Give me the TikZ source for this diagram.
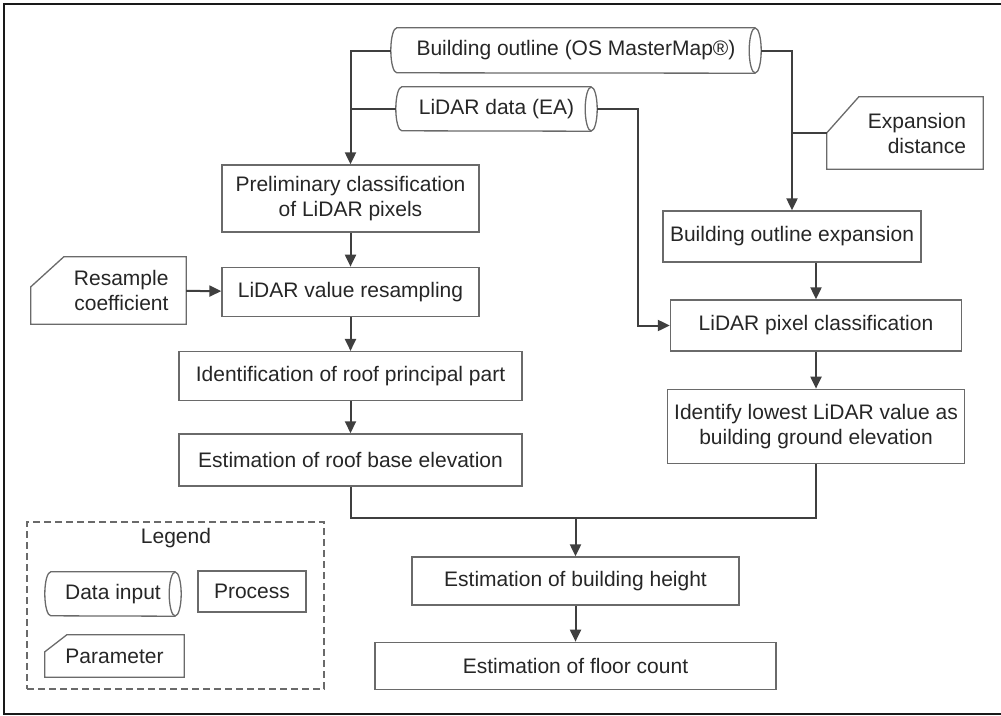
\documentclass[tikz,border=0pt]{standalone}
\usepackage{fontspec}
\setmainfont{Liberation Sans}
\usetikzlibrary{positioning,arrows.meta}
\definecolor{boxgray}{HTML}{6A6A6A}
\definecolor{linegray}{HTML}{3F3F3F}
\tikzset{
  process/.style={draw=boxgray, line width=1.3pt, rectangle, align=center, inner sep=4pt},
  datain/.style={rectangle, align=center, inner sep=4pt},
  param/.style={rectangle, inner sep=0pt},
  outline/.style={draw=boxgray, line width=1.3pt},
  conn/.style={draw=linegray, line width=2pt},
  arr/.style={conn, -{Triangle[length=12pt,width=11pt]}},
}

\begin{document}
\begin{tikzpicture}[x=1pt, y=-1pt, font=\fontsize{21}{25}\selectfont, text=black!85]

\useasboundingbox (0,0) rectangle (1001,715);
\draw[line width=2pt, black!90] (1001,4) -- (4,4) -- (4,714) -- (1001,714);

% data inputs and parameters
\node[datain, minimum width=370pt, minimum height=45pt] (bldg) at (576,50.5) {Building outline (OS MasterMap®)};
\node[datain, minimum width=201pt, minimum height=44pt] (lidar) at (496.5,109) {LiDAR data (EA)};
\node[param, minimum width=156pt, minimum height=72pt, text width=122pt, align=right] (expd) at (905,133) {Expansion\\distance};
\node[param, minimum width=155pt, minimum height=67pt, text width=120pt, align=right] (resc) at (108.5,290.5) {Resample\\coefficient};

% left column
\node[process, minimum width=257pt, minimum height=67pt] (prelim) at (350.5,198.5) {Preliminary classification\\of LiDAR pixels};
\node[process, minimum width=257pt, minimum height=49pt, below=34pt of prelim] (resamp) {LiDAR value resampling};
\node[process, minimum width=343pt, minimum height=49pt, below=34pt of resamp] (roofpart) {Identification of roof principal part};
\node[process, minimum width=343pt, minimum height=52pt, below=32pt of roofpart] (roofbase) {Estimation of roof base elevation};

% right column
\node[process, minimum width=258pt, minimum height=51pt] (expand) at (792,236.5) {Building outline expansion};
\node[process, minimum width=291pt, minimum height=51pt] (pixcls) at (816,325.5) {LiDAR pixel classification};
\node[process, minimum width=297pt, minimum height=74pt, below=37pt of pixcls] (lowest) {Identify lowest LiDAR value as\\building ground elevation};

% bottom
\node[process, minimum width=327pt, minimum height=48pt] (bheight) at (575.5,581) {Estimation of building height};
\node[process, minimum width=401pt, minimum height=47pt, below=36pt of bheight] (floors) {Estimation of floor count};

% legend
\node[draw=boxgray, line width=1.3pt, dash pattern=on 7pt off 4pt, minimum width=297pt, minimum height=167pt] (legend) at (175.5,605.5) {};
\node (legtitle) at (176,538) {Legend};
\node[datain, minimum width=136pt, minimum height=44pt] (legdata) at (113,594) {Data input};
\node[process, minimum width=108pt, minimum height=41pt] (legproc) at (252,591.5) {Process};
\node[param, minimum width=139pt, minimum height=42pt] (legparam) at (114.5,656) {Parameter};

% data input outlines (drum)
\foreach \n/\rx/\ry in {bldg/6/22.5, lidar/6/22, legdata/6/22} {
  \draw[outline] ([xshift=-\rx pt]\n.north east) -- ([xshift=\rx pt]\n.north west)
    arc[start angle=90, end angle=270, x radius=\rx pt, y radius=\ry pt] -- ([xshift=-\rx pt]\n.south east);
  \draw[outline] ([xshift=-\rx pt]\n.east) ellipse[x radius=\rx pt, y radius=\ry pt];
}

% parameter outlines (cut corner)
\foreach \n/\cx/\cy in {expd/32/36, resc/33/30, legparam/22/17}
  \draw[outline] (\n.south west) -- ([yshift=-\cy pt]\n.north west) -- ([xshift=\cx pt]\n.north west) -- (\n.north east) -- (\n.south east) -- cycle;

% connectors
\draw[arr] (bldg.west) -| (prelim.north);
\draw[conn] (lidar.west) -- (lidar.west -| prelim.north);
\draw[arr] (bldg.east) -| (expand.north);
\draw[conn] (expd.west) -- (expd.west -| expand.north);
\draw[arr] (lidar.east) -- ++(41,0) |- (pixcls.west);

\draw[arr] (prelim) -- (resamp);
\draw[arr] (resc) -- (resamp);
\draw[arr] (resamp) -- (roofpart);
\draw[arr] (roofpart) -- (roofbase);

\draw[arr] (expand.south -| pixcls.north) -- (pixcls.north);
\draw[arr] (pixcls) -- (lowest);

\coordinate (merge) at (575.5,518);
\draw[conn] (roofbase.south) |- (merge) -| (lowest.south);
\draw[arr] (merge) -- (bheight);
\draw[arr] (bheight) -- (floors);

\end{tikzpicture}
\end{document}
